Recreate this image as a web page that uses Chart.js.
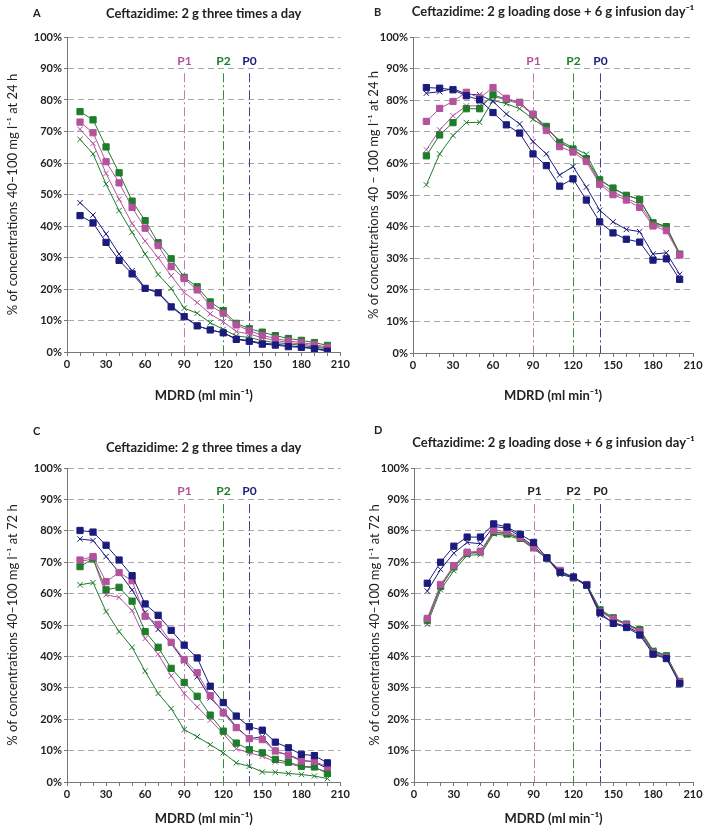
<!DOCTYPE html>
<html>
<head>
<meta charset="utf-8">
<script src="https://cdn.jsdelivr.net/npm/chart.js@4.4.1/dist/chart.umd.min.js"></script>
<style>
  body { margin: 0; background: #fff; }
  #wrap { position: relative; width: 705px; height: 827px; }
  canvas { position: absolute; }
</style>
</head>
<body>
<div id="wrap">
  <canvas id="chartA" width="352" height="410" style="left:0;top:0"></canvas>
  <canvas id="chartB" width="353" height="410" style="left:352px;top:0"></canvas>
  <canvas id="chartC" width="352" height="417" style="left:0;top:410px"></canvas>
  <canvas id="chartD" width="353" height="417" style="left:352px;top:410px"></canvas>
</div>
<script>
// MDRD values (ml/min)
const mdrd = [10, 20, 30, 40, 50, 60, 70, 80, 90, 100, 110, 120, 130, 140, 150, 160, 170, 180, 190, 200];

// population markers
const pLabels = ["P1", "P2", "P0"];
const pValues = [90, 120, 140];

// A - 2 g three times a day, 24 h
const aP0Sq = [43.3, 41.0, 34.8, 29.1, 24.8, 20.2, 18.8, 14.3, 11.2, 8.3, 7.0, 6.1, 4.0, 3.4, 2.5, 2.2, 1.7, 1.5, 1.0, 0.3];
const aP0X  = [47.4, 43.5, 37.5, 31.1, 25.8, 20.3, 18.9, 14.7, 11.3, 8.3, 7.0, 6.1, 4.2, 3.6, 2.8, 2.5, 2.0, 1.6, 1.2, 0.5];
const aP1Sq = [73.0, 69.6, 60.4, 53.7, 45.9, 39.3, 33.8, 27.1, 23.3, 19.7, 14.7, 12.3, 8.6, 6.8, 5.3, 4.3, 3.5, 3.0, 2.4, 1.5];
const aP1X  = [70.7, 66.2, 56.7, 48.5, 40.8, 35.2, 29.9, 24.2, 18.9, 15.7, 12.1, 9.6, 6.5, 5.7, 4.5, 3.7, 3.0, 2.5, 2.0, 1.2];
const aP2Sq = [76.3, 73.7, 65.1, 56.9, 47.9, 41.7, 34.7, 29.6, 23.7, 20.7, 15.9, 13.1, 9.1, 7.4, 6.3, 5.2, 4.3, 3.7, 3.0, 2.1];
const aP2X  = [67.5, 62.9, 53.3, 44.9, 38.0, 31.1, 24.6, 20.2, 13.9, 12.3, 9.3, 7.2, 5.1, 4.6, 3.6, 3.0, 2.6, 2.1, 1.6, 1.0];

// B - loading dose + infusion, 24 h
const bP0Sq = [84.0, 83.8, 83.3, 81.4, 80.1, 76.1, 72.2, 69.6, 63.0, 59.3, 52.8, 55.1, 48.4, 41.5, 38.0, 36.0, 35.1, 29.4, 29.8, 23.3];
const bP0X  = [82.2, 82.7, 83.7, 81.9, 81.7, 79.6, 75.6, 72.5, 66.9, 63.0, 56.3, 59.0, 52.5, 45.2, 41.5, 39.1, 38.4, 31.3, 31.7, 24.9];
const bP1Sq = [73.3, 77.4, 79.6, 82.5, 80.7, 84.0, 80.6, 79.3, 75.6, 70.4, 65.3, 63.6, 60.6, 53.4, 50.1, 48.4, 46.1, 40.2, 38.7, 31.0];
const bP1X  = [64.3, 70.6, 75.1, 78.2, 78.2, 81.2, 80.1, 78.8, 75.4, 71.1, 66.9, 64.3, 61.3, 53.9, 51.0, 49.0, 47.0, 40.8, 39.5, 31.0];
const bP2Sq = [62.4, 69.0, 72.9, 77.3, 77.3, 81.7, 80.3, 79.3, 75.4, 71.7, 66.6, 64.5, 61.5, 54.8, 52.2, 49.9, 48.6, 41.2, 40.0, 31.3];
const bP2X  = [53.2, 63.0, 68.8, 72.9, 73.0, 79.9, 78.9, 77.3, 74.0, 71.1, 67.2, 65.0, 62.9, 54.8, 52.0, 50.0, 48.5, 41.5, 40.0, 31.5];

// C - 2 g three times a day, 72 h
const cP0Sq = [80.1, 79.6, 75.4, 70.7, 65.7, 56.7, 53.1, 48.3, 43.6, 39.5, 30.5, 25.3, 21.0, 17.6, 16.5, 12.7, 10.9, 8.8, 8.4, 6.1];
const cP0X  = [77.4, 76.9, 71.8, 66.7, 61.2, 54.0, 48.6, 44.1, 38.5, 33.5, 26.8, 22.6, 17.6, 13.8, 14.4, 9.6, 8.7, 6.9, 6.4, 4.3];
const cP1Sq = [70.7, 71.8, 63.8, 66.7, 64.1, 52.8, 50.2, 44.5, 39.0, 34.8, 27.5, 22.0, 17.3, 13.8, 13.5, 9.9, 8.5, 6.7, 6.6, 4.8];
const cP1X  = [70.2, 71.1, 59.6, 58.8, 54.6, 45.7, 40.7, 33.8, 28.2, 23.9, 19.7, 15.4, 10.6, 9.3, 8.2, 6.4, 5.9, 4.8, 4.5, 3.2];
const cP2Sq = [68.6, 71.1, 61.2, 62.0, 57.6, 47.9, 42.9, 36.2, 31.7, 27.3, 21.3, 16.2, 12.4, 10.3, 9.3, 7.2, 6.3, 5.0, 4.8, 2.7];
const cP2X  = [62.8, 63.5, 54.3, 47.9, 42.9, 35.3, 28.2, 23.4, 16.7, 14.4, 11.9, 9.3, 6.1, 5.0, 3.2, 3.1, 2.7, 2.4, 1.9, 1.1];

// D - loading dose + infusion, 72 h
const dP0Sq = [63.3, 70.0, 75.1, 78.0, 78.0, 82.2, 81.2, 78.9, 76.3, 71.4, 66.8, 65.3, 62.7, 53.9, 50.5, 49.2, 46.8, 40.7, 39.3, 31.3];
const dP0X  = [60.8, 67.7, 72.9, 76.3, 75.9, 81.4, 80.8, 78.2, 75.1, 71.4, 66.1, 65.1, 62.4, 53.2, 50.8, 49.5, 47.4, 41.1, 39.5, 31.6];
const dP1Sq = [52.1, 62.9, 68.9, 73.2, 73.5, 80.1, 79.8, 77.9, 74.7, 71.4, 67.4, 65.1, 62.9, 54.2, 51.9, 50.0, 47.9, 41.1, 39.7, 31.8];
const dP1X  = [51.0, 62.0, 68.5, 72.8, 73.0, 79.5, 79.4, 77.5, 74.4, 71.3, 67.2, 65.0, 62.8, 54.5, 52.0, 50.2, 48.2, 41.5, 40.0, 32.0];
const dP2Sq = [51.5, 62.3, 68.5, 72.8, 73.3, 79.5, 79.0, 77.6, 74.6, 71.2, 67.0, 65.0, 62.8, 54.8, 52.3, 50.3, 48.5, 41.6, 40.2, 32.0];
const dP2X  = [50.3, 61.2, 67.3, 72.2, 72.4, 79.0, 78.5, 77.3, 74.3, 71.2, 67.0, 64.8, 63.0, 55.0, 52.3, 50.3, 48.5, 42.0, 40.2, 32.3];

const blue = "#1b1b7d";
const pink = "#b4529c";
const green = "#1e7d2a";
const lineColors = ["#c27ab0", "#2f8f3c", "#3c3ca6"];

Chart.defaults.font.family = "Lato, 'Open Sans', sans-serif";
Chart.defaults.color = "#222";

function toPoints(vals) {
    return mdrd.map((x, i) => ({ x: x, y: vals[i] }));
}

function series(vals, color, square) {
    return {
        data: toPoints(vals),
        borderColor: color,
        backgroundColor: color,
        borderWidth: 1,
        pointStyle: square ? "rect" : "crossRot",
        pointRadius: square ? 4.4 : 3.8,
        pointBorderWidth: 1,
        pointBorderColor: color,
        pointBackgroundColor: color,
        tension: 0
    };
}

// titles, letters and P lines
const decorPlugin = {
    id: "decor",
    beforeDatasetsDraw(chart) {
        const o = chart.options.plugins.decor;
        const ctx = chart.ctx;
        const xs = chart.scales.x, ys = chart.scales.y;
        ctx.save();
        pValues.forEach((v, i) => {
            const px = Math.round(xs.getPixelForValue(v)) + 0.5;
            ctx.strokeStyle = lineColors[i];
            ctx.lineWidth = 1;
            ctx.setLineDash([9, 3, 2, 3]);
            ctx.beginPath();
            ctx.moveTo(px, ys.getPixelForValue(88.5));
            ctx.lineTo(px, ys.getPixelForValue(0));
            ctx.stroke();
            ctx.setLineDash([]);
            ctx.fillStyle = o.pColors ? o.pColors[i] : "#222";
            ctx.font = "bold 12px Lato, sans-serif";
            ctx.textAlign = "center";
            ctx.textBaseline = "middle";
            ctx.fillText(pLabels[i], px, ys.getPixelForValue(92.5));
        });
        ctx.restore();
    },
    afterDraw(chart) {
        const o = chart.options.plugins.decor;
        const ctx = chart.ctx;
        const a = chart.chartArea;
        ctx.save();
        ctx.fillStyle = "#222";
        ctx.textBaseline = "middle";
        ctx.font = "bold 11px Lato, sans-serif";
        ctx.textAlign = "left";
        ctx.fillText(o.letter, o.letterX, o.letterY);
        ctx.font = "bold 13px Lato, sans-serif";
        ctx.textAlign = "center";
        ctx.fillText(o.title, (a.left + a.right) / 2, o.titleY);
        ctx.restore();
    }
};

function makeChart(id, cfg) {
    new Chart(document.getElementById(id), {
        type: "line",
        data: {
            datasets: [
                series(cfg.data[1], blue, true),
                series(cfg.data[3], pink, true),
                series(cfg.data[5], green, true),
                series(cfg.data[0], blue, false),
                series(cfg.data[2], pink, false),
                series(cfg.data[4], green, false)
            ]
        },
        options: {
            responsive: false,
            animation: false,
            layout: { padding: { left: 0, top: cfg.top, right: cfg.right, bottom: 0 } },
            plugins: {
                legend: { display: false },
                tooltip: { enabled: false },
                decor: {
                    letter: cfg.letter, letterX: cfg.letterX, letterY: cfg.letterY,
                    title: cfg.title, titleY: cfg.titleY, pColors: cfg.pColors
                }
            },
            scales: {
                x: {
                    type: "linear",
                    min: 0,
                    max: 210,
                    afterFit: s => { s.height = cfg.xHeight; },
                    ticks: {
                        stepSize: 10,
                        autoSkip: false,
                        maxRotation: 0,
                        padding: 2,
                        font: { size: 11, weight: "bold" },
                        callback: v => (v % 30 === 0 ? String(v) : "")
                    },
                    grid: { drawOnChartArea: false, drawTicks: true, tickLength: 4, tickColor: "#777" },
                    border: { display: true, color: "#777", width: 1 },
                    title: {
                        display: true,
                        text: "MDRD (ml min⁻¹)",
                        font: { size: 13, weight: "bold" },
                        padding: { top: 0, bottom: cfg.xTitlePad }
                    }
                },
                y: {
                    min: 0,
                    max: 100,
                    afterFit: s => { s.width = cfg.yWidth; },
                    ticks: {
                        stepSize: 10,
                        padding: 2,
                        font: { size: 11, weight: "bold" },
                        callback: v => v + "%"
                    },
                    grid: {
                        color: ctx => (ctx.tick && ctx.tick.value === 0 ? "rgba(0,0,0,0)" : "#a8a8a8"),
                        drawTicks: true,
                        tickLength: 3,
                        tickColor: "#777",
                        tickBorderDash: []
                    },
                    border: { display: true, color: "#777", width: 1, dash: [6, 4] },
                    title: {
                        display: true,
                        text: cfg.yTitle,
                        font: { size: 13 },
                        padding: { top: cfg.yTitlePad, bottom: 0 }
                    }
                }
            }
        },
        plugins: [decorPlugin]
    });
}

const pColored = [pink, green, blue];

makeChart("chartA", {
    data: [aP0X, aP0Sq, aP1X, aP1Sq, aP2X, aP2Sq],
    top: 37, right: 5, yWidth: 67, xHeight: 58, xTitlePad: 6, yTitlePad: 5,
    letter: "A", letterX: 33, letterY: 13, title: "Ceftazidime: 2 g three times a day", titleY: 14,
    yTitle: "% of concentrations 40–100 mg l⁻¹ at 24 h", pColors: pColored
});

makeChart("chartB", {
    data: [bP0X, bP0Sq, bP1X, bP1Sq, bP2X, bP2Sq],
    top: 37, right: 12, yWidth: 61, xHeight: 57, xTitlePad: 6, yTitlePad: 14,
    letter: "B", letterX: 22, letterY: 12, title: "Ceftazidime: 2 g loading dose + 6 g infusion day⁻¹", titleY: 12,
    yTitle: "% of concentrations 40 – 100 mg l⁻¹ at 24 h", pColors: pColored
});

makeChart("chartC", {
    data: [cP0X, cP0Sq, cP1X, cP1Sq, cP2X, cP2Sq],
    top: 58, right: 5, yWidth: 67, xHeight: 45, xTitlePad: 0, yTitlePad: 5,
    letter: "C", letterX: 33, letterY: 21, title: "Ceftazidime: 2 g three times a day", titleY: 38,
    yTitle: "% of concentrations 40–100 mg l⁻¹ at 72 h", pColors: pColored
});

makeChart("chartD", {
    data: [dP0X, dP0Sq, dP1X, dP1Sq, dP2X, dP2Sq],
    top: 58, right: 12, yWidth: 62, xHeight: 45, xTitlePad: 0, yTitlePad: 15,
    letter: "D", letterX: 22, letterY: 20, title: "Ceftazidime: 2 g loading dose + 6 g infusion day⁻¹", titleY: 33,
    yTitle: "% of concentrations 40–100 mg l⁻¹ at 72 h", pColors: null
});
</script>
</body>
</html>
